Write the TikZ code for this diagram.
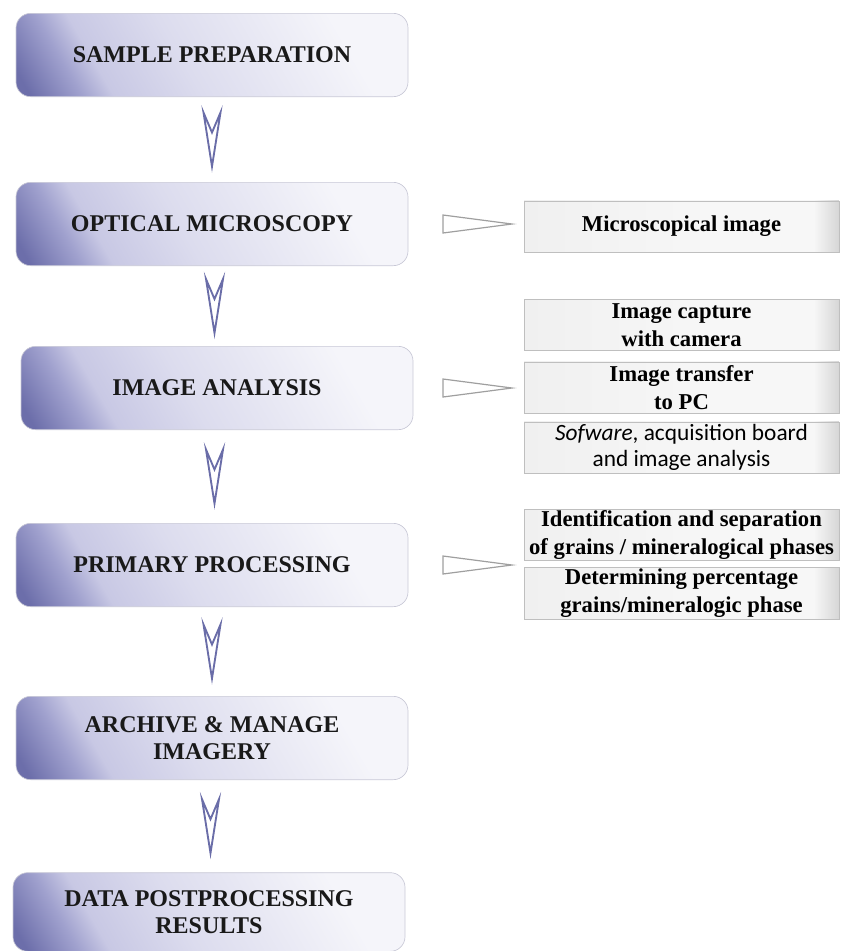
\documentclass[tikz,border=0pt]{standalone}
\usepackage{fontspec}
\setmainfont{Liberation Serif}
\newfontfamily\calibrifont{Carlito}
\usetikzlibrary{calc}
\definecolor{stepdark}{RGB}{108,110,170}
\definecolor{stepedge}{RGB}{160,161,206}
\definecolor{stepmid}{RGB}{200,200,228}
\definecolor{steppale}{RGB}{220,220,238}
\definecolor{steplight}{RGB}{245,245,250}
\definecolor{steprule}{RGB}{200,200,214}
\definecolor{chevcol}{RGB}{106,109,168}
\definecolor{infoa}{RGB}{240,240,240}
\definecolor{infob}{RGB}{247,247,247}
\definecolor{infoc}{RGB}{206,206,206}
\pgfdeclarehorizontalshading{stepshade}{100bp}{color(0bp)=(stepdark); color(18bp)=(stepdark); color(26bp)=(stepedge); color(31bp)=(stepmid); color(45bp)=(steppale); color(72bp)=(steplight); color(100bp)=(steplight)}
\pgfdeclarehorizontalshading{infoshade}{100bp}{color(0bp)=(infoa); color(25bp)=(infoa); color(55bp)=(infob); color(71bp)=(infob); color(76bp)=(infoc); color(100bp)=(infoc)}
\begin{document}
\begin{tikzpicture}[x=0.75pt,y=-0.75pt,
    stepbox/.style={rectangle,rounded corners=11pt,draw=steprule,line width=0.5pt,
      shading=stepshade,shading angle=30,minimum width=294pt,minimum height=62.5pt,
      align=center,text=black!90,font=\bfseries\fontsize{18}{20.5}\selectfont},
    infobox/.style={rectangle,draw=gray!50,line width=0.5pt,shading=infoshade,
      minimum width=236pt,minimum height=38.5pt,inner sep=1pt,align=center,
      font=\bfseries\fontsize{17}{21}\selectfont},
    downchev/.pic={\draw[chevcol,line width=1.4pt,line join=miter]
      (-8.5,-27) -- (0,-7) -- (8.5,-27) -- (0,27) -- cycle;},
    rwedge/.pic={\draw[gray!75,line width=0.9pt,fill=white]
      (0,-9) -- (69,0) -- (0,9) -- cycle;}]
  \useasboundingbox (0,0) rectangle (841,951);
  \node[stepbox] (prep) at (212,55) {SAMPLE PREPARATION};
  \node[stepbox] (optic) at (212,224) {OPTICAL MICROSCOPY};
  \node[stepbox] (anal) at (217,388) {IMAGE ANALYSIS};
  \node[stepbox] (prim) at (212,565) {PRIMARY PROCESSING};
  \node[stepbox] (arch) at (212,738) {ARCHIVE \& MANAGE\\IMAGERY};
  \node[stepbox,minimum height=59pt] (post) at (209,912) {DATA POSTPROCESSING\\RESULTS};
  \pic at ($(prep.south)!0.5!(optic.north)$) {downchev};
  \pic at ($(optic.south)!0.5!(anal.north)$) {downchev};
  \pic at ($(anal.south)!0.5!(prim.north)$) {downchev};
  \pic at ($(prim.south)!0.5!(arch.north)$) {downchev};
  \pic at ($(arch.south)!0.5!(post.north)$) {downchev};
  \node[infobox] (micro) at (681.5,226.5) {Microscopical image};
  \node[infobox] (capt) at (681.5,325) {Image capture\\with camera};
  \node[infobox] (trans) at (681.5,387.5) {Image transfer\\to PC};
  \node[infobox,font=\calibrifont\fontsize{17.5}{19}\selectfont] (soft) at (681.5,447.5)
    {\textit{Sofware}, acquisition board\\and image analysis};
  \node[infobox] (ident) at (681.5,535) {Identification and separation\\of grains / mineralogical phases};
  \node[infobox] (perc) at (681.5,593.5) {Determining percentage\\grains/mineralogic phase};
  \pic at (optic.east -| 443,0) {rwedge};
  \pic at (anal.east -| 443,0) {rwedge};
  \pic at (prim.east -| 443,0) {rwedge};
\end{tikzpicture}
\end{document}
